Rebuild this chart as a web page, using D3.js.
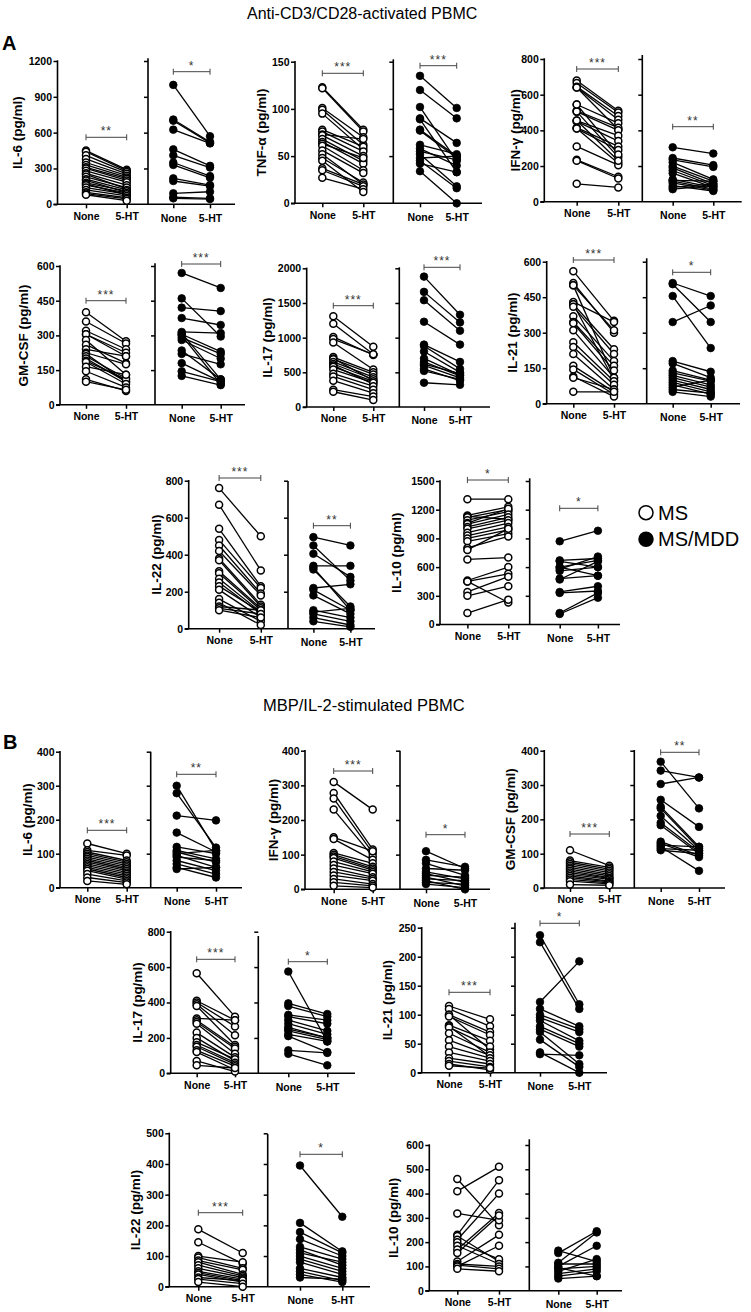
<!DOCTYPE html>
<html><head><meta charset="utf-8">
<script src="https://cdn.jsdelivr.net/npm/d3@7"></script>
<style>body{margin:0;background:#fff} svg{display:block} text{font-family:Arial,"Liberation Sans",Helvetica,sans-serif}</style>
</head><body><svg id="c" width="751" height="1312"></svg>
<script>
// ---------- categories ----------
const conditions = ["None", "5-HT"];
const groups = ["MS", "MS/MDD"];

// ---------- data: [None, 5-HT] per donor ----------
// Panel A: Anti-CD3/CD28-activated PBMC
const A_IL6_MS = [[450,290],[440,280],[410,270],[380,255],[350,240],[330,225],[310,215],[300,200],[280,185],[260,160],[250,130],[230,140],[210,120],[200,100],[180,110],[170,80],[160,95],[140,85],[120,70],[100,55],[90,45],[80,30]];
const A_IL6_MDD = [[1000,570],[710,522],[700,514],[625,510],[460,322],[410,308],[350,236],[330,222],[217,161],[195,153],[92,105],[60,50],[50,44]];
const A_TNF_MS = [[123,78],[122,76],[101,70],[99,62],[95,57],[78,60],[76,55],[73,68],[72,50],[68,45],[65,42],[63,48],[61,35],[56,32],[52,20],[48,22],[37,20],[35,18],[27,15],[45,12]];
const A_TNF_MDD = [[135,101],[120,90],[102,45],[90,64],[89,33],[78,50],[77,48],[62,52],[58,40],[55,46],[52,18],[48,50],[45,16],[42,33],[34,0]];
const A_IFN_MS = [[680,510],[665,500],[645,480],[640,460],[640,405],[545,440],[510,415],[505,400],[505,250],[455,370],[450,340],[415,310],[410,290],[410,215],[310,205],[235,140],[230,130],[100,80],[545,265],[455,230]];
const A_IFN_MDD = [[305,270],[245,205],[235,195],[220,125],[200,115],[190,100],[175,90],[160,80],[125,80],[120,115],[115,70],[105,65],[90,60],[80,100],[70,90]];
const A_GM_MS = [[400,275],[360,265],[320,240],[305,225],[305,210],[280,130],[260,180],[240,210],[225,175],[220,100],[210,115],[200,100],[190,110],[185,90],[165,130],[145,75],[110,60],[100,65]];
const A_GM_MDD = [[570,505],[460,295],[420,405],[375,345],[315,310],[310,110],[305,230],[300,90],[290,220],[280,200],[235,110],[220,175],[180,100],[145,100],[125,85]];
const A_IL17_MS = [[1310,870],[1200,760],[1010,750],[980,760],[930,540],[720,500],[700,380],[690,470],[650,430],[620,400],[600,330],[580,370],[540,350],[480,300],[440,250],[380,200],[250,150],[220,100]];
const A_IL17_MDD = [[1880,1330],[1660,1220],[1540,1100],[1230,900],[900,650],[880,550],[800,500],[700,460],[650,450],[620,480],[600,420],[550,380],[520,400],[350,320]];
const A_IL21_MS = [[560,350],[510,300],[500,310],[500,110],[430,345],[420,230],[420,100],[410,210],[370,180],[345,160],[340,140],[310,110],[260,95],[240,80],[210,60],[160,50],[145,40],[115,30],[110,60],[50,50]];
const A_IL21_MDD = [[510,455],[505,345],[455,235],[345,415],[180,135],[170,110],[140,100],[130,95],[120,80],[110,70],[100,60],[90,50],[80,40],[70,100],[60,45],[50,30]];
const A_IL22_MS = [[760,500],[670,315],[540,230],[480,220],[450,190],[420,180],[380,130],[370,120],[310,110],[300,100],[270,90],[250,80],[230,90],[210,60],[160,40],[140,20],[120,100],[110,80],[100,60]];
const A_IL22_MDD = [[495,450],[450,260],[405,280],[340,340],[330,100],[320,120],[220,240],[210,100],[180,80],[100,60],[90,110],[80,40],[60,20],[40,10]];
const A_IL10_MS = [[1310,1310],[1140,1230],[1130,1100],[1120,1200],[1090,1180],[1060,1210],[1050,1150],[1020,1120],[1000,1090],[960,1060],[930,1020],[900,990],[870,950],[800,920],[780,1000],[680,700],[460,600],[450,530],[450,230],[340,500],[300,400],[120,260]];
const A_IL10_MDD = [[870,980],[670,690],[660,600],[600,670],[600,510],[580,710],[560,600],[480,510],[470,660],[340,400],[330,350],[120,330],[110,280]];
// Panel B: MBP/IL-2-stimulated PBMC
const B_IL6_MS = [[130,100],[110,95],[105,80],[100,75],[95,70],[90,65],[85,60],[80,55],[75,50],[70,45],[65,40],[60,35],[55,30],[50,25],[40,20],[30,15],[20,10]];
const B_IL6_MDD = [[300,110],[278,118],[212,198],[162,105],[120,100],[110,85],[105,75],[100,110],[95,60],[90,80],[80,50],[70,40],[60,30],[55,60]];
const B_IFN_MS = [[310,230],[278,115],[262,105],[230,95],[150,110],[145,85],[105,75],[100,65],[95,60],[90,55],[80,50],[70,45],[60,35],[50,30],[40,25],[30,15],[20,10],[10,5]];
const B_IFN_MDD = [[110,60],[85,65],[75,40],[60,55],[50,30],[45,20],[40,35],[35,10],[30,25],[25,0],[20,15],[15,5]];
const B_GM_MS = [[110,65],[80,60],[75,55],[70,50],[65,45],[60,40],[55,35],[50,30],[45,28],[40,25],[35,20],[30,18],[25,15],[20,12],[10,8]];
const B_GM_MDD = [[368,232],[342,322],[303,322],[257,178],[237,120],[232,115],[210,110],[190,105],[183,100],[135,95],[130,90],[125,120],[120,50],[115,110],[110,100]];
const B_IL17_MS = [[565,320],[410,300],[400,265],[390,215],[380,160],[310,300],[300,150],[290,140],[280,110],[230,90],[200,70],[175,80],[160,60],[150,50],[130,40],[120,20],[70,10],[45,30]];
const B_IL17_MDD = [[575,180],[395,335],[380,320],[330,300],[320,280],[300,240],[280,220],[260,200],[250,200],[240,190],[220,180],[210,120],[130,115],[110,45]];
const B_IL21_MS = [[115,92],[110,80],[100,70],[100,40],[97,65],[82,55],[80,28],[78,45],[68,35],[56,30],[45,25],[35,20],[25,15],[20,10],[15,5],[12,8]];
const B_IL21_MDD = [[237,118],[225,110],[122,192],[110,80],[100,75],[95,70],[90,55],[80,50],[75,45],[70,15],[57,10],[35,0],[32,30]];
const B_IL22_MS = [[187,110],[145,75],[100,80],[95,60],[85,55],[80,40],[70,35],[60,30],[50,25],[45,20],[40,15],[30,20],[25,10],[15,0]];
const B_IL22_MDD = [[395,228],[208,115],[178,110],[155,100],[130,90],[120,70],[110,80],[100,60],[90,50],[80,40],[60,30],[50,20],[40,15],[30,25]];
const B_IL10_MS = [[460,270],[410,510],[318,290],[230,455],[225,120],[210,400],[200,130],[185,110],[170,320],[155,310],[120,230],[110,100],[105,90],[100,185],[90,80]];
const B_IL10_MDD = [[165,120],[155,245],[115,240],[110,110],[100,185],[95,60],[90,100],[80,130],[70,90],[60,80],[50,60]];

// ---------- tick labels ----------
const ticks_A_IL6 = [0,300,600,900,1200];
const ticks_A_TNF = [0,50,100,150];
const ticks_A_IFN = [0,200,400,600,800];
const ticks_A_GM = [0,150,300,450,600];
const ticks_A_IL17 = [0,500,1000,1500,2000];
const ticks_A_IL21 = [0,150,300,450,600];
const ticks_A_IL22 = [0,200,400,600,800];
const ticks_A_IL10 = [0,300,600,900,1200,1500];
const ticks_B_IL6 = [0,100,200,300,400];
const ticks_B_IFN = [0,100,200,300,400];
const ticks_B_GM = [0,100,200,300,400];
const ticks_B_IL17 = [0,200,400,600,800];
const ticks_B_IL21 = [0,50,100,150,200,250];
const ticks_B_IL22 = [0,100,200,300,400,500];
const ticks_B_IL10 = [0,100,200,300,400,500,600];

// ---------- panel definitions (data refs + layout) ----------
const panels = [
 {lab:"IL-6 (pg/ml)", ticks:ticks_A_IL6, ms:A_IL6_MS, mdd:A_IL6_MDD, sig:["**","*"],
  ax:57.5, bx:148, cx:[86,126.7,173.3,210], xEnd:235, yTop:61, y0:204.3, rTop:58.3, lblX:17, sigY:[137.3,71.7]},
 {lab:"TNF-\u03b1 (pg/ml)", ticks:ticks_A_TNF, ms:A_TNF_MS, mdd:A_TNF_MDD, sig:["***","***"],
  ax:295, bx:393.3, cx:[322.3,363.3,420,456.7], xEnd:482, yTop:61.7, y0:203.3, rTop:59.3, lblX:261, sigY:[73.3,65.7]},
 {lab:"IFN-\u03b3 (pg/ml)", ticks:ticks_A_IFN, ms:A_IFN_MS, mdd:A_IFN_MDD, sig:["***","**"],
  ax:544.3, bx:642.3, cx:[576.7,618.3,672.7,713.3], xEnd:741.7, yTop:59, y0:201.7, rTop:55, lblX:515, sigY:[69,126.7]},
 {lab:"GM-CSF (pg/ml)", ticks:ticks_A_GM, ms:A_GM_MS, mdd:A_GM_MDD, sig:["***","***"],
  ax:60, bx:155, cx:[86,126,181.7,220.7], xEnd:245, yTop:266, y0:404.8, rTop:263.3, lblX:23, sigY:[300.7,264]},
 {lab:"IL-17 (pg/ml)", ticks:ticks_A_IL17, ms:A_IL17_MS, mdd:A_IL17_MDD, sig:["***","***"],
  ax:306.7, bx:399.3, cx:[333.3,373.3,424,460], xEnd:490, yTop:268.3, y0:407, rTop:267.3, lblX:267, sigY:[305.7,267.3]},
 {lab:"IL-21 (pg/ml)", ticks:ticks_A_IL21, ms:A_IL21_MS, mdd:A_IL21_MDD, sig:["***","*"],
  ax:546.7, bx:646.7, cx:[573.3,614,672.7,710.7], xEnd:740, yTop:261.7, y0:403.7, rTop:258.3, lblX:512, sigY:[260,272.3]},
 {lab:"IL-22 (pg/ml)", ticks:ticks_A_IL22, ms:A_IL22_MS, mdd:A_IL22_MDD, sig:["***","**"],
  ax:188.7, bx:288, cx:[219.1,260.8,313.4,350.4], xEnd:375, yTop:480.7, y0:628.7, rTop:481, lblX:156, sigY:[478,525.7]},
 {lab:"IL-10 (pg/ml)", ticks:ticks_A_IL10, ms:A_IL10_MS, mdd:A_IL10_MDD, sig:["*","*"],
  ax:440, bx:529.7, cx:[467.4,508.3,559.7,597.9], xEnd:620, yTop:481, y0:624.5, rTop:478.3, lblX:396, sigY:[480,508.3]},
 {lab:"IL-6 (pg/ml)", ticks:ticks_B_IL6, ms:B_IL6_MS, mdd:B_IL6_MDD, sig:["***","**"],
  ax:60, bx:150.7, cx:[87.3,126.7,176.7,216], xEnd:242, yTop:751.7, y0:887.7, rTop:751.7, lblX:27, sigY:[830.3,774.3]},
 {lab:"IFN-\u03b3 (pg/ml)", ticks:ticks_B_IFN, ms:B_IFN_MS, mdd:B_IFN_MDD, sig:["***","*"],
  ax:305, bx:400, cx:[333.7,372.7,426,465], xEnd:490, yTop:750.7, y0:889.3, rTop:750.7, lblX:273, sigY:[771,834.7]},
 {lab:"GM-CSF (pg/ml)", ticks:ticks_B_GM, ms:B_GM_MS, mdd:B_GM_MDD, sig:["***","**"],
  ax:544.3, bx:634.3, cx:[570,609.3,660.7,699], xEnd:725, yTop:750.7, y0:888, rTop:750, lblX:510, sigY:[834,752.3]},
 {lab:"IL-17 (pg/ml)", ticks:ticks_B_IL17, ms:B_IL17_MS, mdd:B_IL17_MDD, sig:["***","*"],
  ax:170.7, bx:258.3, cx:[196.7,235,288.3,327.3], xEnd:355, yTop:931.7, y0:1073.3, rTop:936, lblX:137, sigY:[959.3,961.7]},
 {lab:"IL-21 (pg/ml)", ticks:ticks_B_IL21, ms:B_IL21_MS, mdd:B_IL21_MDD, sig:["***","*"],
  ax:421.7, bx:515, cx:[449,490,540,579.3], xEnd:607, yTop:927.7, y0:1072.7, rTop:922.7, lblX:387, sigY:[992.3,923.3]},
 {lab:"IL-22 (pg/ml)", ticks:ticks_B_IL22, ms:B_IL22_MS, mdd:B_IL22_MDD, sig:["***","*"],
  ax:169.3, bx:267.7, cx:[198.3,242.7,300,342.3], xEnd:370, yTop:1133.3, y0:1286.7, rTop:1134, lblX:135, sigY:[1212.7,1154.3]},
 {lab:"IL-10 (pg/ml)", ticks:ticks_B_IL10, ms:B_IL10_MS, mdd:B_IL10_MDD, sig:null,
  ax:429.3, bx:529.3, cx:[457.3,499,558.3,596.7], xEnd:622, yTop:1145, y0:1290.7, rTop:1139.3, lblX:393, sigY:null}
];

const svg = d3.select("#c");
const FONT = 'Arial, "Liberation Sans", Helvetica, sans-serif';

// titles
svg.append("text").attr("x",247).attr("y",19).attr("font-size",16).text("Anti-CD3/CD28-activated PBMC");
svg.append("text").attr("x",2).attr("y",50).attr("font-size",20).attr("font-weight","bold").text("A");
svg.append("text").attr("x",263).attr("y",711).attr("font-size",16.5).text("MBP/IL-2-stimulated PBMC");
svg.append("text").attr("x",3).attr("y",749).attr("font-size",20).attr("font-weight","bold").text("B");

function styleAxis(g){
  g.attr("font-family", FONT);
  g.selectAll(".tick line").attr("stroke","#000").attr("stroke-width",1.5);
  g.selectAll(".tick text").attr("font-size",10.5).attr("font-weight","bold").attr("fill","#000");
  g.select(".domain").remove();
}

panels.forEach(p => {
  const g = svg.append("g");
  const y = d3.scaleLinear().domain([0, d3.max(p.ticks)]).range([p.y0, p.yTop]);
  const xL = d3.scalePoint().domain(conditions).range([p.cx[0], p.cx[1]]);
  const xR = d3.scalePoint().domain(conditions).range([p.cx[2], p.cx[3]]);

  // left y axis
  const gl = g.append("g").attr("transform",`translate(${p.ax},0)`)
    .call(d3.axisLeft(y).tickValues(p.ticks).tickFormat(d3.format("d")).tickSize(4).tickPadding(1.5).tickSizeOuter(0));
  styleAxis(gl);
  g.append("line").attr("x1",p.ax).attr("x2",p.ax).attr("y1",p.y0).attr("y2",p.yTop-0.7)
    .attr("stroke","#000").attr("stroke-width",1.6);
  // right y axis (no labels)
  const gr = g.append("g").attr("transform",`translate(${p.bx},0)`)
    .call(d3.axisLeft(y).tickValues(p.ticks.filter(t=>t>0)).tickSize(4).tickFormat("").tickSizeOuter(0));
  styleAxis(gr);
  g.append("line").attr("x1",p.bx).attr("x2",p.bx).attr("y1",p.y0).attr("y2",p.rTop)
    .attr("stroke","#000").attr("stroke-width",1.6);
  // x axis baseline
  g.append("line").attr("x1",p.ax-4).attr("x2",p.xEnd).attr("y1",p.y0).attr("y2",p.y0)
    .attr("stroke","#000").attr("stroke-width",1.6);
  const gxl = g.append("g").attr("transform",`translate(0,${p.y0})`)
    .call(d3.axisBottom(xL).tickSize(4).tickPadding(4).tickSizeOuter(0));
  styleAxis(gxl);
  const gxr = g.append("g").attr("transform",`translate(0,${p.y0})`)
    .call(d3.axisBottom(xR).tickSize(4).tickPadding(6).tickSizeOuter(0));
  styleAxis(gxr);

  // y label
  const my = (p.y0 + p.yTop)/2;
  g.append("text").attr("transform",`translate(${p.lblX},${my}) rotate(-90)`)
    .attr("text-anchor","middle").attr("dy","0.35em")
    .attr("font-size",13.5).attr("font-weight","bold").text(p.lab);

  // significance brackets
  if (p.sig) {
    [[xL, p.sig[0], p.sigY[0]], [xR, p.sig[1], p.sigY[1]]].forEach(([xs, s, sy]) => {
      const x1 = xs(conditions[0]), x2 = xs(conditions[1]);
      const bg = g.append("g").attr("stroke","#444").attr("stroke-width",1);
      bg.append("line").attr("x1",x1).attr("x2",x2).attr("y1",sy).attr("y2",sy);
      bg.append("line").attr("x1",x1).attr("x2",x1).attr("y1",sy-3).attr("y2",sy+3);
      bg.append("line").attr("x1",x2).attr("x2",x2).attr("y1",sy-3).attr("y2",sy+3);
      g.append("text").attr("x",(x1+x2)/2).attr("y",sy-2).attr("text-anchor","middle")
        .attr("font-size",12).attr("fill","#333").attr("letter-spacing",1).text(s);
    });
  }

  // paired data
  [[xL, p.ms, false], [xR, p.mdd, true]].forEach(([xs, data, filled]) => {
    const lg = g.append("g");
    lg.selectAll("line").data(data).join("line")
      .attr("x1", xs(conditions[0])).attr("x2", xs(conditions[1]))
      .attr("y1", d => y(d[0])).attr("y2", d => y(d[1]))
      .attr("stroke","#000").attr("stroke-width",1.3);
    const pts = data.flatMap(d => [{c:conditions[0], v:d[0]}, {c:conditions[1], v:d[1]}]);
    lg.selectAll("circle").data(pts).join("circle")
      .attr("cx", d => xs(d.c)).attr("cy", d => y(d.v))
      .attr("r", filled ? 3.8 : 3.5)
      .attr("fill", filled ? "#000" : "#fff")
      .attr("stroke","#000").attr("stroke-width", filled ? 0.8 : 1.5);
  });
});

// legend
const leg = svg.append("g");
groups.forEach((gname, i) => {
  const ly = 512.7 + i*26.6;
  leg.append("circle").attr("cx",646).attr("cy",ly).attr("r",7)
    .attr("fill", i===0 ? "#fff" : "#000").attr("stroke","#000").attr("stroke-width",1.5);
  leg.append("text").attr("x",658).attr("y",ly+7).attr("font-size",20).text(gname);
});
</script></body></html>
